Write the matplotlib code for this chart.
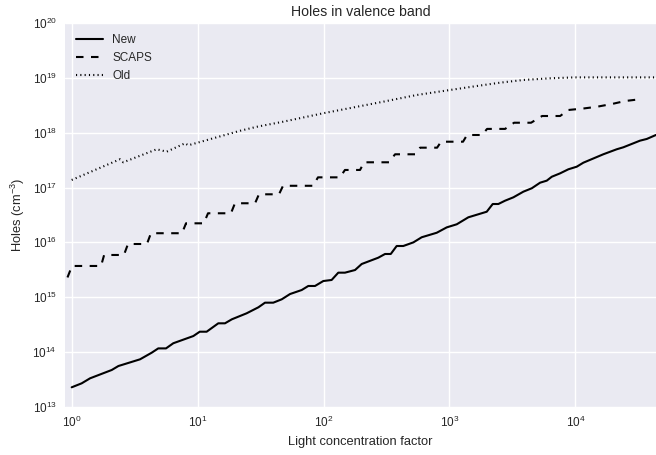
import matplotlib
matplotlib.use('Agg')
import matplotlib.pyplot as plt
from matplotlib.ticker import NullFormatter, NullLocator
import seaborn as sns

# values
new_x = [1.0, 1.20, 1.40, 2.08, 2.35, 3.49, 4.32, 4.87, 5.61, 6.41, 9.25, 10.4, 11.8,
         14.6, 16.5, 18.7, 24.5, 30.4, 34.3, 39.9, 46.6, 54.2, 67.1, 75.7, 85.6, 99.6,
         116, 131, 148, 178, 201, 272, 308, 342, 381, 430, 517, 602, 793, 952, 1143,
         1413, 1978, 2207, 2446, 2765, 3221, 3865, 4508, 5248, 5929, 6500, 7560, 8800,
         10260, 11570, 16670, 21300, 24060, 32620, 36900, 43700]
new_y = [2.26e13, 2.67e13, 3.30e13, 4.68e13, 5.53e13, 7.33e13, 9.68e13, 1.16e14, 1.16e14,
         1.44e14, 1.95e14, 2.34e14, 2.34e14, 3.33e14, 3.33e14, 3.94e14, 5.07e14, 6.53e14,
         7.93e14, 7.93e14, 9.14e14, 1.14e15, 1.35e15, 1.60e15, 1.60e15, 1.97e15, 2.06e15,
         2.80e15, 2.80e15, 3.13e15, 4.03e15, 5.25e15, 6.14e15, 6.14e15, 8.59e15, 8.59e15,
         1.00e16, 1.24e16, 1.50e16, 1.88e16, 2.14e16, 2.87e16, 3.63e16, 5.02e16, 5.02e16,
         5.77e16, 6.65e16, 8.43e16, 9.73e16, 1.23e17, 1.34e17, 1.58e17, 1.82e17, 2.16e17,
         2.41e17, 2.85e17, 4.06e17, 5.01e17, 5.45e17, 7.2e17, 7.73e17, 9.15e17]

scaps_x = [0.926, 1.006, 1.71, 1.81, 2.60, 2.80, 3.96, 4.26, 7.52, 8.09, 11.2, 12.1, 18.4,
           19.8, 28.6, 30.7, 44.3, 47.7, 82.5, 90.4, 135, 148, 195, 210, 331, 370, 533,
           584, 798, 858, 1282, 1380, 1816, 1990, 2767, 3260, 4450, 5445, 7570, 8760,
           11700, 14900, 19600, 24800, 32100]
scaps_y = [2.29e15, 3.71e15, 3.71e15, 5.89e15, 5.89e15, 9.35e15, 9.35e15, 1.47e16, 1.47e16,
           2.23e16, 2.23e16, 3.40e16, 3.40e16, 5.18e16, 5.18e16, 7.55e16, 7.55e16, 1.08e17,
           1.08e17, 1.54e17, 1.54e17, 2.10e17, 2.10e17, 2.90e17, 2.90e17, 4.06e17, 4.06e17,
           5.36e17, 5.36e17, 6.89e17, 6.89e17, 9.14e17, 9.14e17, 1.18e18, 1.18e18, 1.53e18,
           1.53e18, 2.03e18, 2.03e18, 2.61e18, 2.79e18, 3.00e18, 3.37e18, 3.81e18, 4.09e18]

old_x = [1.0, 2.42, 2.57, 4.73, 5.68, 7.94, 8.44, 21.7, 29.5, 48.0, 99.6, 299, 550, 1011,
         1648, 2523, 3864, 6300, 9960, 43700]
old_y = [1.38e17, 3.29e17, 2.90e17, 5.01e17, 4.53e17, 6.44e17, 5.93e17, 1.09e18, 1.29e18,
         1.60e18, 2.28e18, 3.71e18, 4.91e18, 6.06e18, 7.16e18, 8.24e18, 9.23e18, 9.91e18,
         1.03e19, 1.03e19]

sns.set_style('darkgrid')
plt.rcParams['font.family'] = ['Liberation Sans', 'DejaVu Sans']
plt.rcParams['mathtext.default'] = 'regular'
plt.rcParams['lines.scale_dashes'] = False
text_col = '#262626'

fig = plt.figure(figsize=(6.56, 4.55), dpi=100)
ax = fig.add_axes([65 / 656, 48.3 / 455, 591 / 656, 383.4 / 455])

ax.plot(new_x, new_y, color='black', lw=1.5, ls='-', label='New')
ax.plot(scaps_x, scaps_y, color='black', lw=1.5, ls=(0, (5.4, 5.4)), label='SCAPS')
ax.plot(old_x, old_y, color='black', lw=1.5, ls=(0, (0.8, 2.3)), label='Old')

ax.set_xscale('log')
ax.set_yscale('log')
ax.set_xlim(0.885, 43700)
ax.set_ylim(1e13, 1e20)
# no minor ticks or labels, as in the reference
for axis in (ax.xaxis, ax.yaxis):
    axis.set_minor_locator(NullLocator())
    axis.set_minor_formatter(NullFormatter())
    axis.get_offset_text().set_visible(False)
ax.grid(True, which='major', color='white', lw=1)
ax.tick_params(which='both', length=0, labelsize=8.5, colors=text_col, pad=6)
for s in ax.spines.values():
    s.set_visible(False)

ax.set_title('Holes in valence band', fontsize=10.2, color=text_col, pad=5)
ax.set_xlabel('Light concentration factor', fontsize=9.3, color=text_col)
ax.set_ylabel('Holes (cm$^{-3}$)', fontsize=9.3, color=text_col)

leg = ax.legend(loc='upper left', frameon=False, fontsize=8.5, handlelength=2.3)
for t in leg.get_texts():
    t.set_color(text_col)

fig.savefig('out.png', dpi=100)
